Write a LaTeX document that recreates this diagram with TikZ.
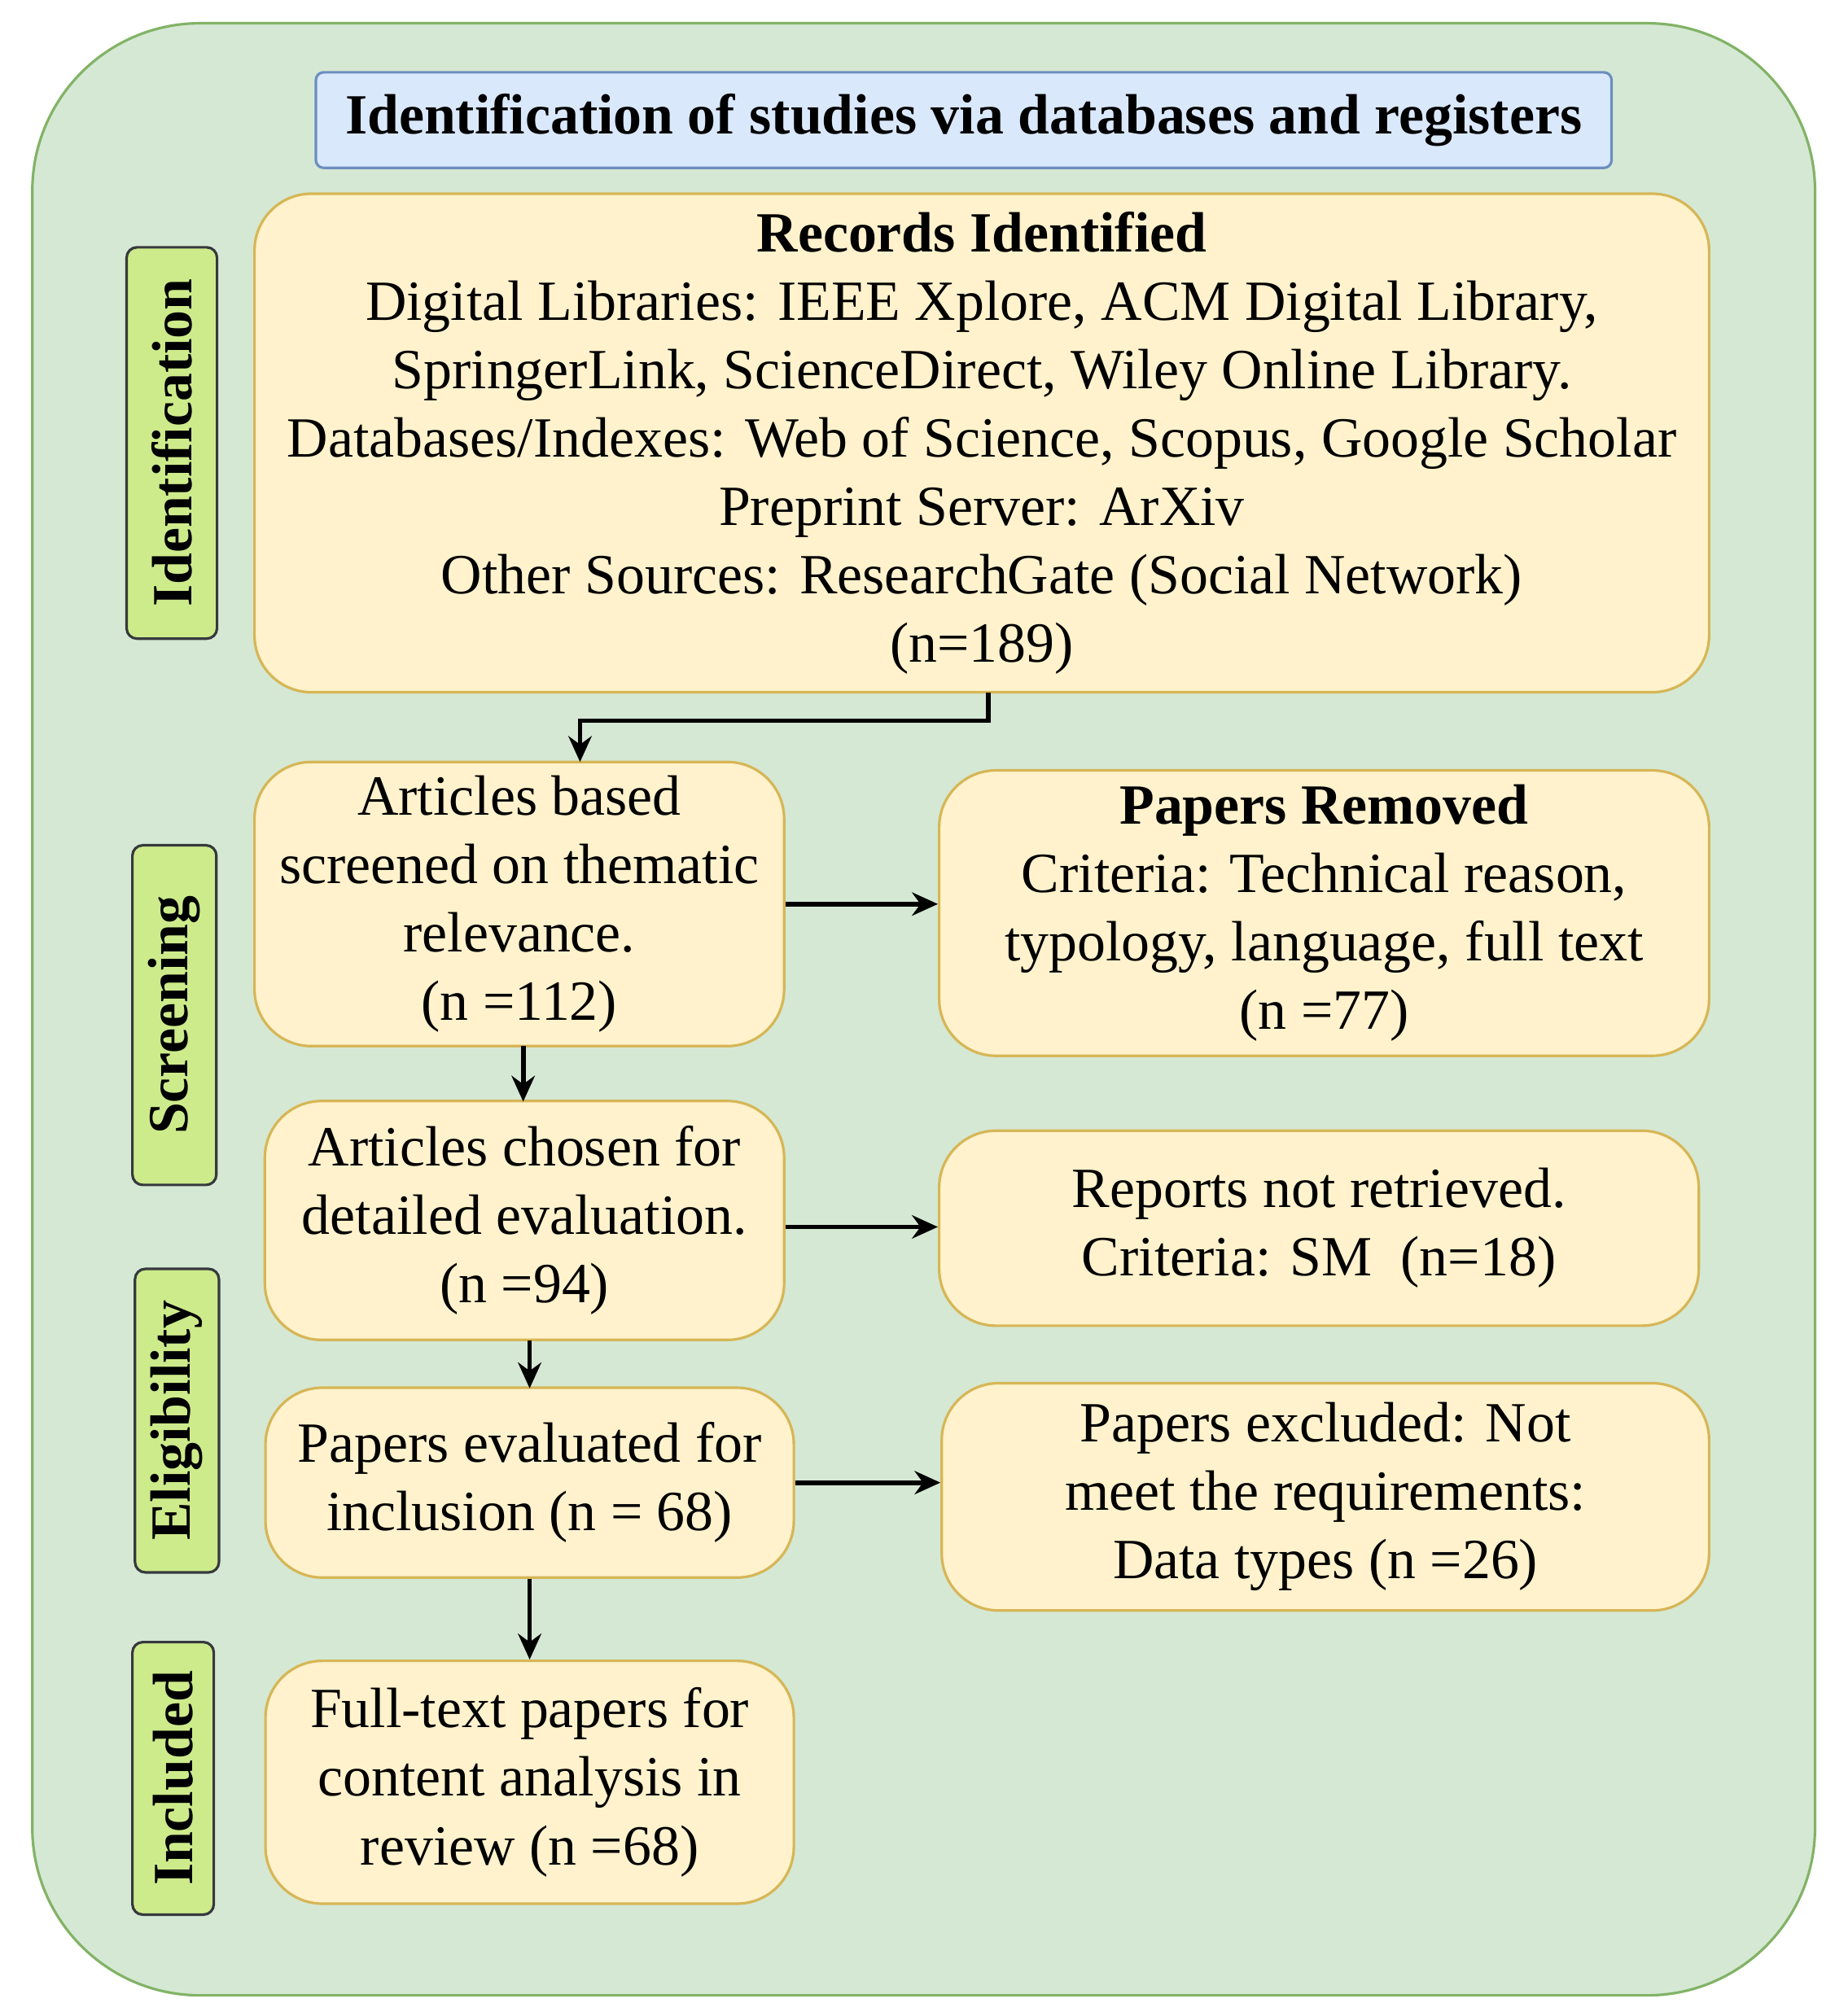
\documentclass[tikz,border=0pt]{standalone}
\usepackage{fontspec}
\setmainfont{Liberation Serif}
\usetikzlibrary{arrows.meta}
\definecolor{bgG}{HTML}{D5E8D4}\definecolor{bgGs}{HTML}{82B366}
\definecolor{tB}{HTML}{DAE8FC}\definecolor{tBs}{HTML}{6C8EBF}
\definecolor{yF}{HTML}{FFF2CC}\definecolor{yS}{HTML}{D6B656}
\definecolor{lG}{HTML}{CDEB8B}\definecolor{lS}{HTML}{36393D}
\begin{document}
\begin{tikzpicture}[x=0.5pt,y=-0.5pt,
 box/.style={draw=yS,fill=yF,line width=1pt,rounded corners=22pt,align=center,font=\fontsize{22}{26.5}\selectfont,inner sep=0pt},
 side/.style={draw=lS,fill=lG,line width=1pt,rounded corners=4pt,align=center,rotate=90,font=\bfseries\fontsize{22}{26}\selectfont,inner sep=0pt},
 arr/.style={-{Stealth[length=10pt,width=9pt]},line width=1.8pt}]
\useasboundingbox (0,0) rectangle (1420,1561);
\draw[draw=bgGs,fill=bgG,line width=1pt,rounded corners=65pt] (25,18) rectangle (1405,1545);
\node[draw=tBs,fill=tB,line width=1pt,rounded corners=3pt,minimum width=501.5pt,minimum height=37pt,inner sep=0pt,font=\bfseries\fontsize{22}{26}\selectfont] (title) at (746,93) {Identification of studies via databases and registers};
\node[side,minimum width=151.5pt,minimum height=35pt] (s1) at (133,343) {Identification};
\node[side,minimum width=131.5pt,minimum height=32.5pt] (s2) at (135,786) {Screening};
\node[side,minimum width=117.5pt,minimum height=32.5pt] (s3) at (137,1100) {Eligibility};
\node[side,minimum width=105.5pt,minimum height=31.5pt] (s4) at (134,1377) {Included};
\node[box,minimum width=563pt,minimum height=193pt] (rec) at (760,343) {\textbf{Records Identified}\\Digital Libraries: IEEE Xplore, ACM Digital Library,\\SpringerLink, ScienceDirect, Wiley Online Library.\\Databases/Indexes: Web of Science, Scopus, Google Scholar\\Preprint Server: ArXiv\\Other Sources: ResearchGate (Social Network)\\(n=189)};
\node[box,minimum width=205pt,minimum height=110pt] (ab) at (402,700) {Articles based\\screened on thematic\\relevance.\\(n =112)};
\node[box,minimum width=298pt,minimum height=110.5pt] (pr) at (1025,707) {\textbf{Papers Removed}\\Criteria: Technical reason,\\typology, language, full text\\(n =77)};
\node[box,minimum width=201pt,minimum height=92.5pt] (ac) at (406,945) {Articles chosen for\\detailed evaluation.\\(n =94)};
\node[box,minimum width=294pt,minimum height=75.5pt] (rn) at (1021,951) {Reports not retrieved.\\Criteria: SM\ \ (n=18)};
\node[box,minimum width=204.5pt,minimum height=73.5pt] (pe) at (410,1148) {Papers evaluated for\\inclusion (n = 68)};
\node[box,minimum width=297pt,minimum height=88pt] (px) at (1026,1159) {Papers excluded: Not\\meet the requirements:\\Data types (n =26)};
\node[box,minimum width=204.5pt,minimum height=94pt] (ft) at (410,1380) {Full-text papers for\\content analysis in\\review (n =68)};
\draw[arr] (765,536) |- (449,558) -- (449,590);
\draw[arr] (ab.east|-0,700) -- (pr.west|-0,700);
\draw[arr] (405,810) -- (405,853);
\draw[arr] (ac.east|-0,950) -- (rn.west|-0,950);
\draw[arr] (410,1038) -- (410,1075);
\draw[arr] (pe.east|-0,1148) -- (px.west|-0,1148);
\draw[arr] (pe.south) -- (ft.north);
\end{tikzpicture}
\end{document}
